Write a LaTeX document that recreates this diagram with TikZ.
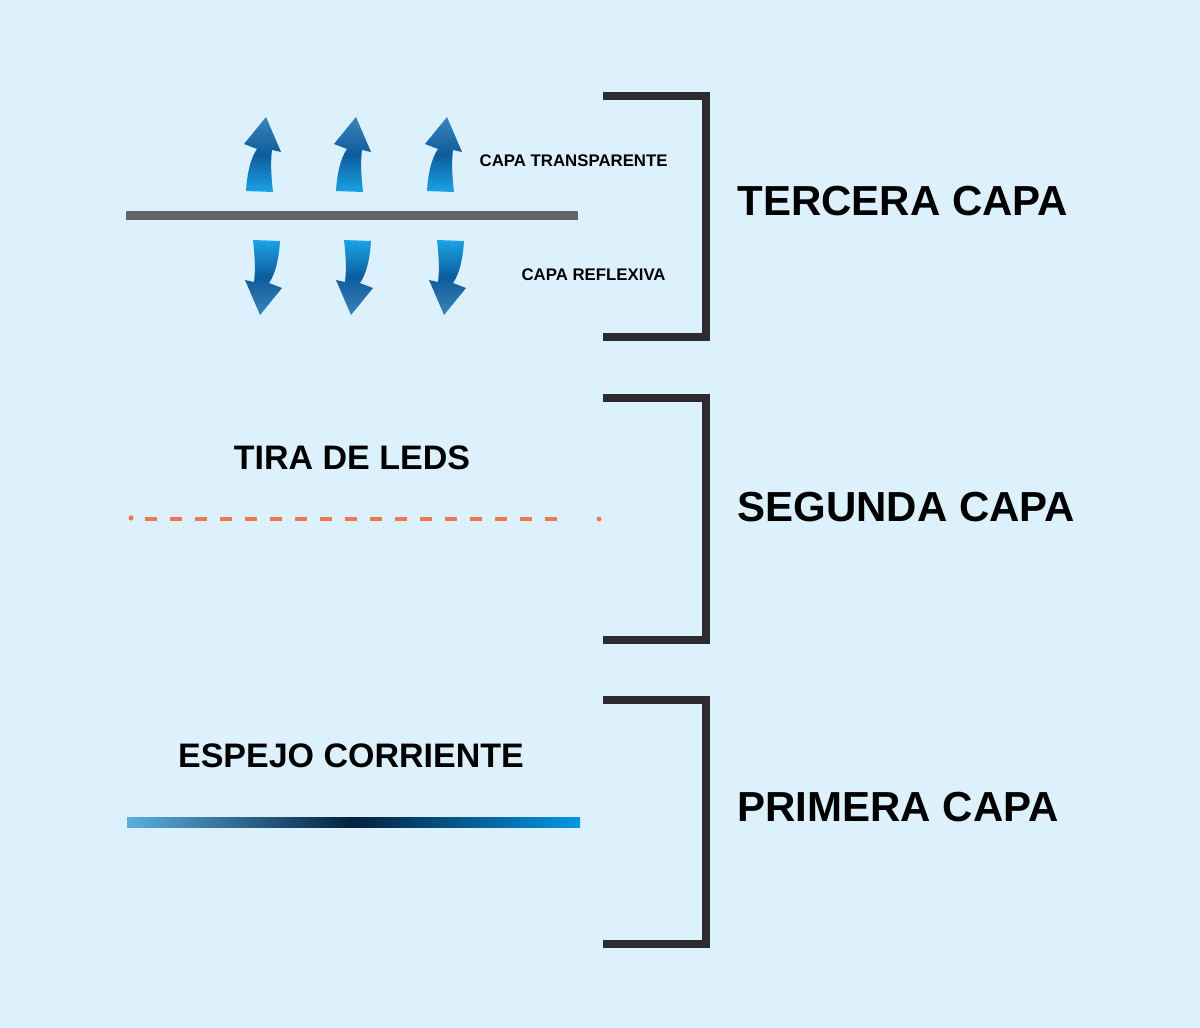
\documentclass[tikz,border=0pt]{standalone}
\usepackage{fontspec}
\setmainfont{Liberation Sans}
\usetikzlibrary{positioning}

\definecolor{bgblue}{HTML}{DCF1FC}
\definecolor{brackgray}{HTML}{2C2C30}
\definecolor{sheetgray}{HTML}{67636B}
\definecolor{ledorange}{HTML}{F2774F}
\definecolor{arrlight}{HTML}{1BA3E6}
\definecolor{arrmid}{HTML}{0D5C9C}
\definecolor{arrhead}{HTML}{3C84BA}
\definecolor{mirlight}{HTML}{5AAEDF}
\definecolor{mirdark}{HTML}{04213F}
\definecolor{mirright}{HTML}{0697E3}

\tikzset{
  layerbracket/.style={line width=3.8pt, draw=brackgray},
  layerlabel/.style={font=\fontsize{21}{25}\selectfont\bfseries, anchor=west, inner sep=0pt},
  partlabel/.style={font=\fontsize{17}{20}\selectfont\bfseries, inner sep=0pt},
  smalllabel/.style={font=\fontsize{8.4}{10}\selectfont\bfseries, anchor=east, inner sep=0pt},
  ledseg/.style={ledorange, line width=2.4pt, dash pattern=on 6pt off 6.5pt},
  airup/.style={top color=arrhead, bottom color=arrlight, middle color=arrmid},
  airdown/.style={top color=arrlight, bottom color=arrhead, middle color=arrmid},
}

\begin{document}
\begin{tikzpicture}[x=0.5pt, y=-0.5pt]
    % Background
    \fill[bgblue] (0,0) rectangle (1200,1028);
    \useasboundingbox (0,0) rectangle (1200,1028);

    % Layer brackets and their labels
    \foreach \ytop/\ybot/\ymid/\nm/\txt in {96/337/201/tercera/TERCERA CAPA,
        398/640/507/segunda/SEGUNDA CAPA, 700/944/807/primera/PRIMERA CAPA} {
        \draw[layerbracket] (603,\ytop) -- (706,\ytop) -- (706,\ybot) -- (603,\ybot);
        \node[layerlabel] (\nm) at (737,\ymid) {\txt};
    }

    % Third layer: sheet with air flowing up and down
    \draw[sheetgray, line width=4.5pt] (126,215) -- (578,215);
    \foreach \x in {266,356,447} {
        \shade[airup, shift={(\x,117)}] (0,0) -- (15,35) -- (6,33)
            .. controls (4,50) and (6,65) .. (7,75) -- (-20,74)
            .. controls (-19,58) and (-16,42) .. (-9,32) -- (-22,27) -- cycle;
    }
    \foreach \x in {260,351,444} {
        \shade[airdown, shift={(\x,315)}] (0,0) -- (-15,-35) -- (-6,-33)
            .. controls (-4,-50) and (-6,-65) .. (-7,-75) -- (20,-74)
            .. controls (19,-58) and (16,-42) .. (9,-32) -- (22,-27) -- cycle;
    }
    \node[smalllabel] (transp) at (668,161) {CAPA TRANSPARENTE};
    \node[smalllabel] (reflex) at (666,275) {CAPA REFLEXIVA};

    % Second layer: LED strip
    \node[partlabel] (leds) at (352,458) {TIRA DE LEDS};
    \draw[ledseg] (145,519) -- (560,519);
    \fill[ledorange] (131,518) circle (1.3pt);
    \fill[ledorange] (599,519) circle (1.2pt);

    % First layer: mirror
    \node[partlabel] (espejo) at (351,756) {ESPEJO CORRIENTE};
    \shade[left color=mirlight, right color=mirright, middle color=mirdark]
        (127,817) rectangle (580,827);
\end{tikzpicture}
\end{document}
